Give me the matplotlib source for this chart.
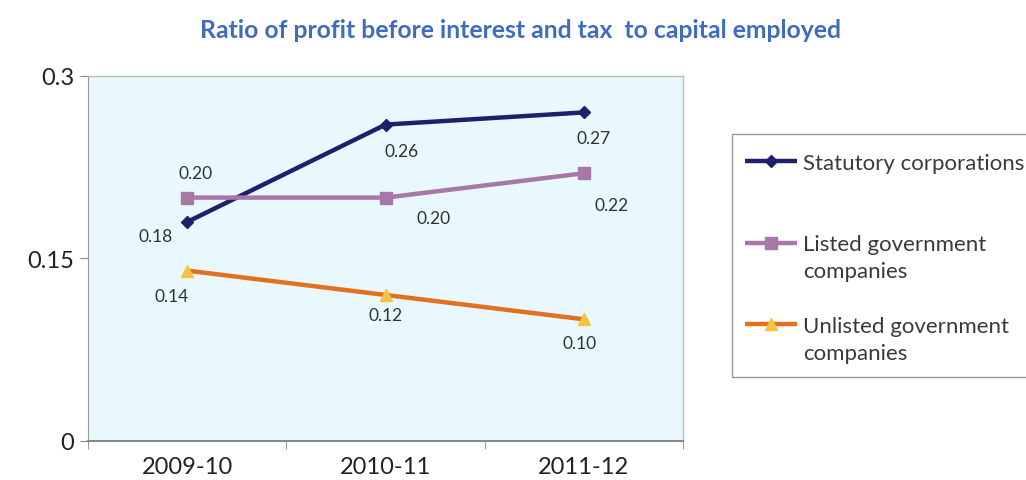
import matplotlib
matplotlib.use('Agg')
import matplotlib.pyplot as plt
from matplotlib.lines import Line2D
from matplotlib.patches import Rectangle

plt.rcParams['font.family'] = ['Lato', 'DejaVu Sans']

# Ratio of PBIT to capital employed, by category of public sector undertaking
years = ['2009-10', '2010-11', '2011-12']
statutory = [0.18, 0.26, 0.27]
listed = [0.20, 0.20, 0.22]
unlisted = [0.14, 0.12, 0.10]

series_names = ['Statutory corporations',
                'Listed government\ncompanies',
                'Unlisted government\ncompanies']

# per-series styling and label offsets (pixels)
STYLES = [
    dict(color='#1f1f6b', marker='D', ms=6, mfc='#1f1f6b', mec='#1f1f6b',
         offsets=[(-32, -14), (16, -26), (10, -26)]),
    dict(color='#a777a8', marker='s', ms=8, mfc='#a777a8', mec='#a777a8',
         offsets=[(8, 25), (48, -20), (28, -32)]),
    dict(color='#e2701f', marker='^', ms=8, mfc='#f6c244', mec='#f6c244',
         offsets=[(-16, -25), (0, -20), (-4, -24)]),
]

fig = plt.figure(figsize=(10.26, 4.81), dpi=100)
ax = fig.add_axes([0.0858, 0.0811, 0.58, 0.759])
ax.set_facecolor('#e8f8fc')

x = list(range(len(years)))
handles = []
for vals, name, st in zip([statutory, listed, unlisted], series_names, STYLES):
    h, = ax.plot(x, vals, color=st['color'], lw=3.2, marker=st['marker'],
                 ms=st['ms'], mfc=st['mfc'], mec=st['mec'], label=name,
                 solid_capstyle='butt')
    handles.append(h)
    for xi, v, off in zip(x, vals, st['offsets']):
        ax.annotate(f'{v:.2f}', (xi, v), xytext=off, textcoords='offset pixels',
                    ha='center', va='center', fontsize=12.5, color='#333333')

ax.set_xlim(-0.5, 2.5)
ax.set_ylim(0, 0.3)
ax.set_yticks([0, 0.15, 0.3])
ax.set_yticklabels(['0', '0.15', '0.3'])
ax.set_xticks(x)
ax.set_xticklabels(years)
ax.set_xticks([-0.5, 0.5, 1.5, 2.5], minor=True)
ax.tick_params(axis='x', which='major', length=0, pad=11, labelsize=17, colors='#222222')
ax.tick_params(axis='x', which='minor', length=6, color='#888888')
ax.tick_params(axis='y', length=6, labelsize=17, labelcolor='#222222', color='#888888', pad=4)

for side in ['top', 'right']:
    ax.spines[side].set_color('#bbbbbb')
    ax.spines[side].set_linewidth(1)
ax.spines['left'].set_color('#999999')
ax.spines['bottom'].set_color('#888888')
ax.spines['bottom'].set_linewidth(1.5)

fig.text(0.507, 0.937, 'Ratio of profit before interest and tax  to capital employed',
         ha='center', va='center', fontsize=17.8, fontweight='bold', color='#3f6cbf')

# legend: one row per text line, so the sample line sits on the first line
blank = Line2D([], [], color='none')
leg_handles, leg_labels = [], []
for i, (h, name) in enumerate(zip(handles, series_names)):
    lines = name.split('\n')
    leg_handles.append(h)
    leg_labels.append(lines[0])
    for extra in lines[1:]:
        leg_handles.append(blank)
        leg_labels.append(extra)
    if i == 0:
        leg_handles += [blank, blank]
        leg_labels += [' ', ' ']
    elif i == 1:
        leg_handles.append(blank)
        leg_labels.append(' ')

leg = fig.legend(leg_handles, leg_labels, loc='upper left',
                 bbox_to_anchor=(745 / 1026, 1 - 154 / 481),
                 frameon=False, fontsize=16,
                 handlelength=2.35, handletextpad=0.25, labelspacing=0.32,
                 borderpad=0, borderaxespad=0)
for t in leg.get_texts():
    t.set_color('#3a3a3a')

fig.patches.append(Rectangle((732 / 1026, 1 - 378 / 481), 400 / 1026, 243 / 481,
                             transform=fig.transFigure, fill=False,
                             edgecolor='#999999', linewidth=1))

fig.savefig('out.png', dpi=100)
